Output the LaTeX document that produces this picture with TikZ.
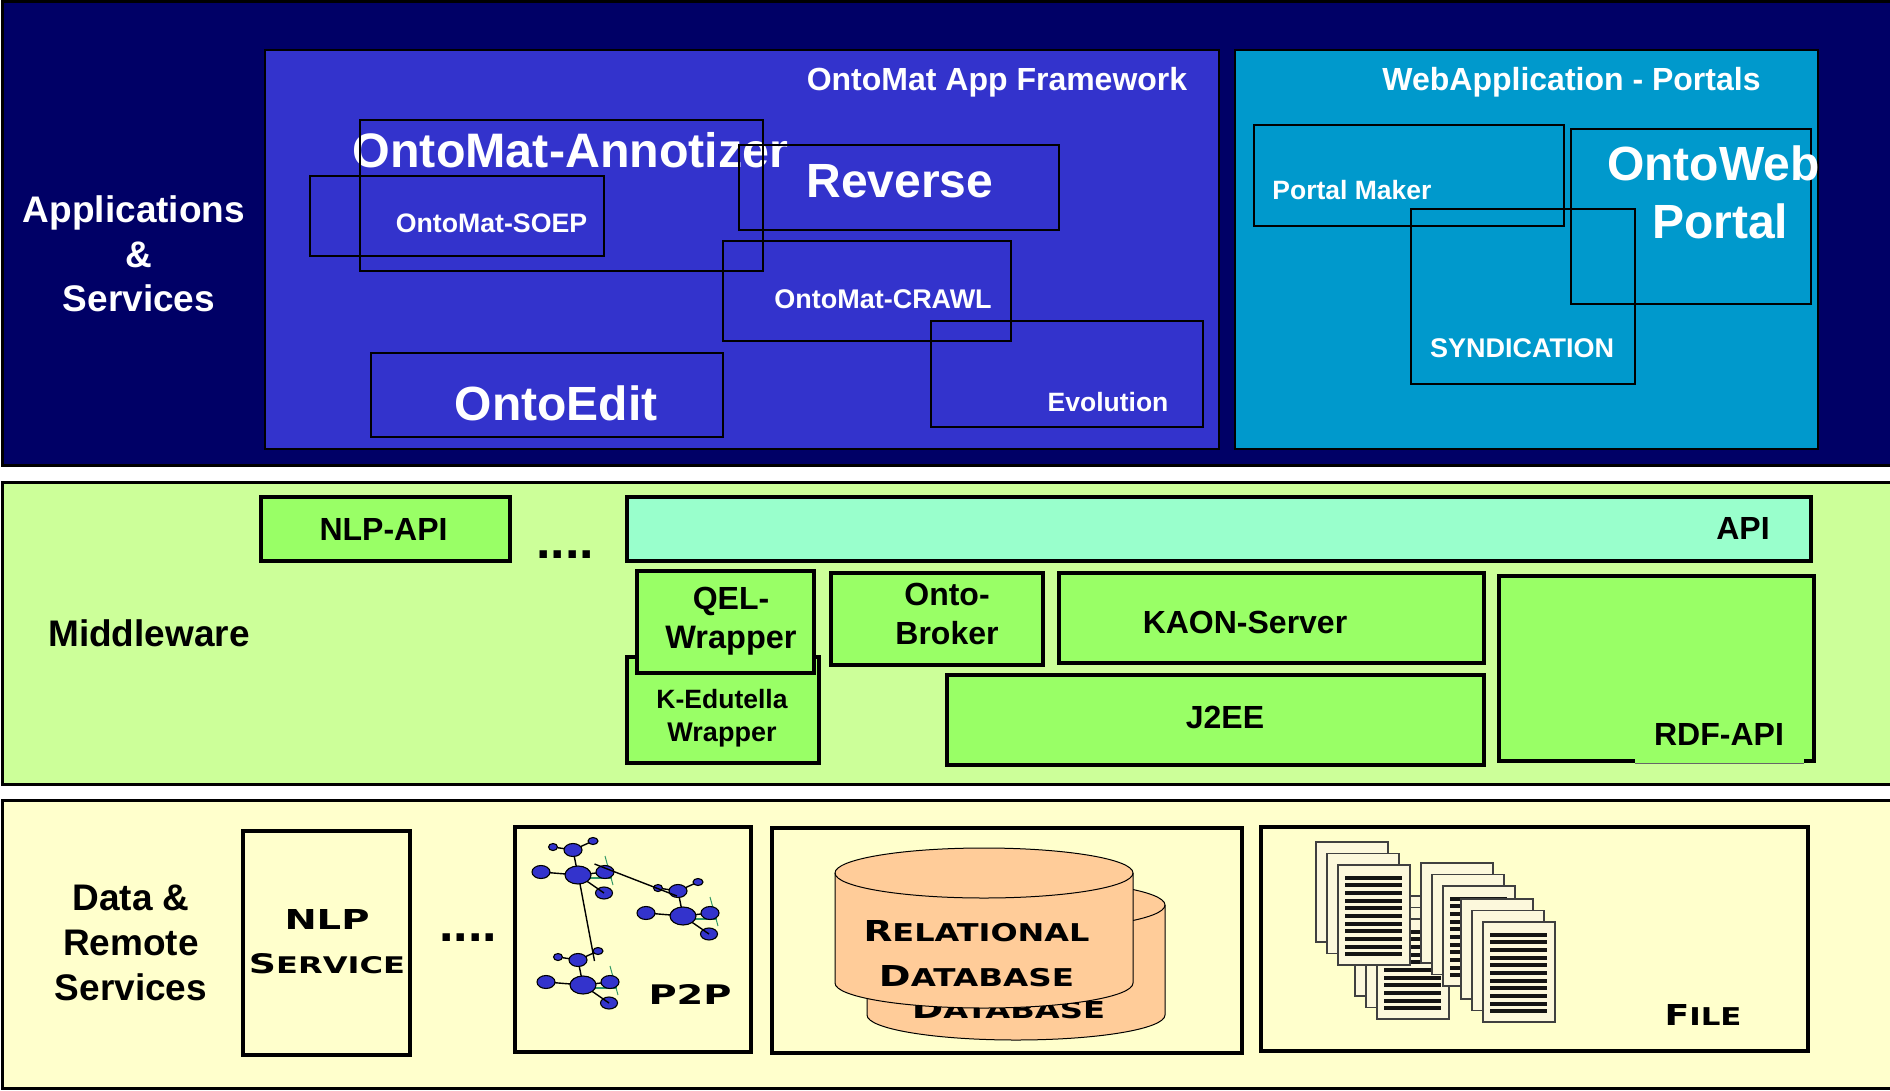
\documentclass[tikz,border=0pt]{standalone}
\usepackage{fontspec}
\usepackage{graphicx}
\setmainfont{Liberation Sans}
\newfontfamily\capsfont{DejaVu Sans}
\usetikzlibrary{shapes.geometric,calc}
\definecolor{navybg}{HTML}{000066}
\definecolor{framebg}{HTML}{3333CC}
\definecolor{webbg}{HTML}{0099CC}
\definecolor{midbg}{HTML}{CCFF99}
\definecolor{greenbox}{HTML}{99FF66}
\definecolor{apibox}{HTML}{99FFCC}
\definecolor{databg}{HTML}{FFFFCC}
\definecolor{cylfill}{HTML}{FFCC99}
\definecolor{pagefill}{HTML}{FCF8DC}
\definecolor{twig}{HTML}{339966}
\tikzset{
  panel/.style={draw=black,line width=3pt,rectangle,inner sep=0pt,outer sep=0pt},
  thinbox/.style={draw=black,line width=2.4pt,rectangle,inner sep=0pt,outer sep=0pt},
  heavybox/.style={draw=black,line width=4pt,rectangle,inner sep=0pt,outer sep=0pt},
  greenstyle/.style={heavybox,fill=greenbox},
  whitelab/.style={anchor=base,inner sep=0pt,outer sep=0pt,text=white,font=\bfseries},
  blacklab/.style={anchor=base,inner sep=0pt,outer sep=0pt,text=black,font=\bfseries},
  capslab/.style={anchor=base,inner sep=0pt,outer sep=0pt,text=black},
  cyl/.style={draw=black,line width=1pt,fill=cylfill},
  docpage/.style={draw=black!75,line width=1.1pt,fill=pagefill},
  docbar/.style={fill=black!92,draw=none},
  netnode/.style={ellipse,draw=black,line width=1.1pt,fill=framebg,inner sep=0pt,outer sep=0pt},
  netline/.style={draw=black,line width=1.4pt},
  twigline/.style={draw=twig,line width=1pt},
}
% name, style, x1, y1, x2, y2
\newcommand{\rbox}[6]{%
  \pgfmathsetmacro{\rcx}{(#3+#5)/2}%
  \pgfmathsetmacro{\rcy}{(#4+#6)/2}%
  \pgfmathsetmacro{\rw}{#5-#3}%
  \pgfmathsetmacro{\rh}{#6-#4}%
  \node[#2,minimum width=\rw pt,minimum height=\rh pt] (#1) at (\rcx,\rcy) {};}
% name, style, size, centre x, baseline y, text
\newcommand{\lab}[6]{%
  \node[#2] (#1) at (#4,#5) {\fontsize{#3}{#3}\selectfont #6};}
% name, width, height, centre x, baseline y, big letter, small letters
\newcommand{\capslabel}[7]{%
  \node[capslab] (#1) at (#4,#5) {\resizebox{#2pt}{#3pt}{\capsfont\bfseries\fontsize{20}{20}\selectfont #6\fontsize{17}{17}\selectfont #7}};}
\newcommand{\cylinder}[2]{%
  \begin{scope}[shift={(#1,#2)}]
    \path[cyl] (0,0) -- (0,110) .. controls (0,123.8) and (66.7,135) .. (149,135)
      .. controls (231.3,135) and (298,123.8) .. (298,110) -- (298,0)
      .. controls (298,-13.8) and (231.3,-25) .. (149,-25)
      .. controls (66.7,-25) and (0,-13.8) .. (0,0) -- cycle;
    \draw[line width=1pt] (0,0) .. controls (0,13.8) and (66.7,25) .. (149,25)
      .. controls (231.3,25) and (298,13.8) .. (298,0);
  \end{scope}}
\newcommand{\plainpage}[2]{\path[docpage] (#1,#2) rectangle ++(72,100);}
\newcommand{\textpage}[2]{%
  \path[docpage] (#1,#2) rectangle ++(72,100);
  \foreach \by in {12.7,19.7,27.7,35.7,42.7,50.7,58.7,65.7,73.7,81.7,88.7}{
    \path[docbar] ($(#1,#2)+(7,\by-2)$) rectangle ++(57,4);}}
\newcommand{\docstack}[2]{%
  \plainpage{#1}{#2}
  \pgfmathsetmacro{\sxa}{#1+11}\pgfmathsetmacro{\sya}{#2+11.5}
  \plainpage{\sxa}{\sya}
  \pgfmathsetmacro{\sxb}{#1+22}\pgfmathsetmacro{\syb}{#2+23}
  \textpage{\sxb}{\syb}}
% cluster name, shift x, shift y (relative to first cluster)
\newcommand{\cluster}[3]{%
  \begin{scope}[shift={(#2,#3)}]
    \coordinate (#1ga) at (605,857);
    \coordinate (#1gb) at (613,886);
    \coordinate (#1gc) at (590,879);
    \coordinate (#1gd) at (612,879);
    \draw[twigline] (#1ga) -- (#1gb);
    \draw[twigline,line width=1.4pt] (#1gc) -- (#1gd);
    \node[netnode,minimum width=26pt,minimum height=18pt] (#1big) at (578,876) {};
    \node[netnode,minimum width=18pt,minimum height=13pt] (#1top) at (573,851) {};
    \node[netnode,minimum width=9pt,minimum height=7pt] (#1tl) at (553,848) {};
    \node[netnode,minimum width=10pt,minimum height=7pt] (#1tr) at (593,842) {};
    \node[netnode,minimum width=18pt,minimum height=13pt] (#1left) at (541,873) {};
    \node[netnode,minimum width=18pt,minimum height=13pt] (#1right) at (605,873) {};
    \node[netnode,minimum width=17pt,minimum height=12pt] (#1low) at (604,894) {};
    \draw[netline] (#1tl) -- (#1top);
    \draw[netline] (#1top) -- (#1tr);
    \draw[netline] (#1top) -- (#1big);
    \draw[netline] (#1left) -- (#1big);
    \draw[netline] (#1big) -- (#1right);
    \draw[netline] (#1big) -- (#1low.center);
  \end{scope}}
\begin{document}
\begin{tikzpicture}[x=1pt,y=-1pt]
\useasboundingbox (0,0) rectangle (1890,1090);
\clip (0,0) rectangle (1890,1090);
\fill[white] (0,0) rectangle (1890,1090);
% ---------- panels
\rbox{apps}{panel,fill=navybg}{2}{1.5}{1900}{465}
\rbox{mid}{panel,fill=midbg}{2.5}{482}{1900}{784}
\rbox{data}{panel,fill=databg}{2.5}{800}{1900}{1088}
% ---------- applications
\rbox{frame}{thinbox,fill=framebg}{265}{50}{1219}{449}
\rbox{web}{thinbox,fill=webbg}{1235}{50}{1818}{449}
\lab{tanno}{whitelab}{48.4}{570.5}{167}{OntoMat-Annotizer}
\rbox{anno}{thinbox}{360}{120}{763}{271}
\rbox{soep}{thinbox}{310}{176}{604}{256}
\rbox{reverse}{thinbox}{739}{145}{1059}{230}
\rbox{crawl}{thinbox}{723}{241}{1011}{341}
\rbox{evol}{thinbox}{931}{321}{1203}{427}
\rbox{edit}{thinbox}{371}{353}{723}{437}
\rbox{maker}{thinbox}{1254}{125}{1564}{226}
\rbox{ontoweb}{thinbox}{1571}{129}{1811}{304}
\rbox{synd}{thinbox}{1411}{209}{1635}{384}
\lab{tapp1}{whitelab}{37}{134}{222}{Applications}
\lab{tapp2}{whitelab}{37}{139}{267}{\&}
\lab{tapp3}{whitelab}{37}{139}{311}{Services}
\lab{tframe}{whitelab}{32}{997}{90}{OntoMat App Framework}
\lab{tweb}{whitelab}{32}{1571.5}{90}{WebApplication - Portals}
\lab{tsoep}{whitelab}{26.7}{491.5}{232}{OntoMat-SOEP}
\lab{trev}{whitelab}{48}{900}{197}{Reverse}
\lab{tcrawl}{whitelab}{27}{883}{308}{OntoMat-CRAWL}
\lab{tevol}{whitelab}{26.5}{1108}{411}{Evolution}
\lab{tedit}{whitelab}{48}{556}{420}{OntoEdit}
\lab{tmaker}{whitelab}{26.5}{1352}{199}{Portal Maker}
\lab{tsynd}{whitelab}{27}{1522}{357}{SYNDICATION}
\lab{tow1}{whitelab}{48}{1713.5}{180}{OntoWeb}
\lab{tow2}{whitelab}{48}{1720}{238}{Portal}
% ---------- middleware
\rbox{nlpapi}{greenstyle}{261}{497}{510}{561}
\rbox{api}{heavybox,fill=apibox}{627}{497}{1811}{561}
\rbox{kedu}{greenstyle}{627}{657}{819}{763}
\rbox{qel}{greenstyle}{637}{571}{814}{673}
\rbox{broker}{greenstyle}{831}{573}{1043}{665}
\rbox{kaon}{greenstyle}{1059}{573}{1484}{663}
\rbox{jee}{greenstyle}{947}{675}{1484}{764.5}
\rbox{rdf}{greenstyle}{1499}{576}{1814}{761}
\path[fill=greenbox] (1635,730) rectangle (1804,763);
\draw[black!60,line width=0.7pt] (1635,763) -- (1804,763);
\lab{tmid}{blacklab}{37}{149}{646}{Middleware}
\lab{tnlpapi}{blacklab}{32}{383.5}{540}{NLP-API}
\lab{tdots1}{blacklab}{52}{565}{558}{....}
\lab{tapi}{blacklab}{32}{1743}{539.5}{API}
\lab{tqel1}{blacklab}{32}{731}{609}{QEL-}
\lab{tqel2}{blacklab}{32.5}{731}{648}{Wrapper}
\lab{tonto1}{blacklab}{32}{947}{605}{Onto-}
\lab{tonto2}{blacklab}{32}{947}{644}{Broker}
\lab{tkaon}{blacklab}{32}{1245}{633}{KAON-Server}
\lab{tjee}{blacklab}{32}{1225}{728}{J2EE}
\lab{tkedu1}{blacklab}{26.5}{722}{708}{K-Edutella}
\lab{tkedu2}{blacklab}{27}{722}{741}{Wrapper}
\lab{trdf}{blacklab}{32}{1719}{745}{RDF-API}
% ---------- data and remote services
\rbox{nlp}{heavybox}{243}{831}{410}{1054.5}
\rbox{ptp}{heavybox}{515}{827}{751}{1051.5}
\rbox{rdb}{heavybox}{772}{828}{1242}{1052.5}
\rbox{filebox}{heavybox}{1261}{827}{1808}{1051}
\lab{td1}{blacklab}{37}{131}{910}{Data \&}
\lab{td2}{blacklab}{37}{131}{955}{Remote}
\lab{td3}{blacklab}{37}{131}{1000}{Services}
\lab{tdots2}{blacklab}{52}{468}{941}{....}
\capslabel{tnlp1}{85}{20}{327}{929}{NLP}{}
\capslabel{tnlp2}{156}{20}{327}{973}{S}{ERVICE}
% P2P network
\begin{scope}[yshift=1pt]
\cluster{a}{0}{0}
\cluster{b}{105}{41}
\cluster{c}{5}{110}
\coordinate (la) at (594.5,865);
\coordinate (lb) at (677,897);
\coordinate (lc) at (580,885);
\coordinate (ld) at (594.5,962);
\draw[netline] (la) -- (lb);
\draw[netline] (lc) -- (ld);
\end{scope}
\capslabel{tptp}{83}{20}{690}{1004}{P2P}{}
% database cylinders
\cylinder{867}{905}
\capslabel{tdbback}{193}{20}{1008.5}{1018}{D}{ATABASE}
\cylinder{835}{873}
\capslabel{trel}{226}{21}{976.5}{941}{R}{ELATIONAL}
\capslabel{tdb}{195}{21}{976.5}{986}{D}{ATABASE}
% file stacks
\docstack{1355}{896}
\docstack{1316}{842}
\docstack{1421}{863}
\docstack{1461}{899}
\capslabel{tfile}{77}{21}{1703}{1025}{F}{ILE}
\end{tikzpicture}
\end{document}
